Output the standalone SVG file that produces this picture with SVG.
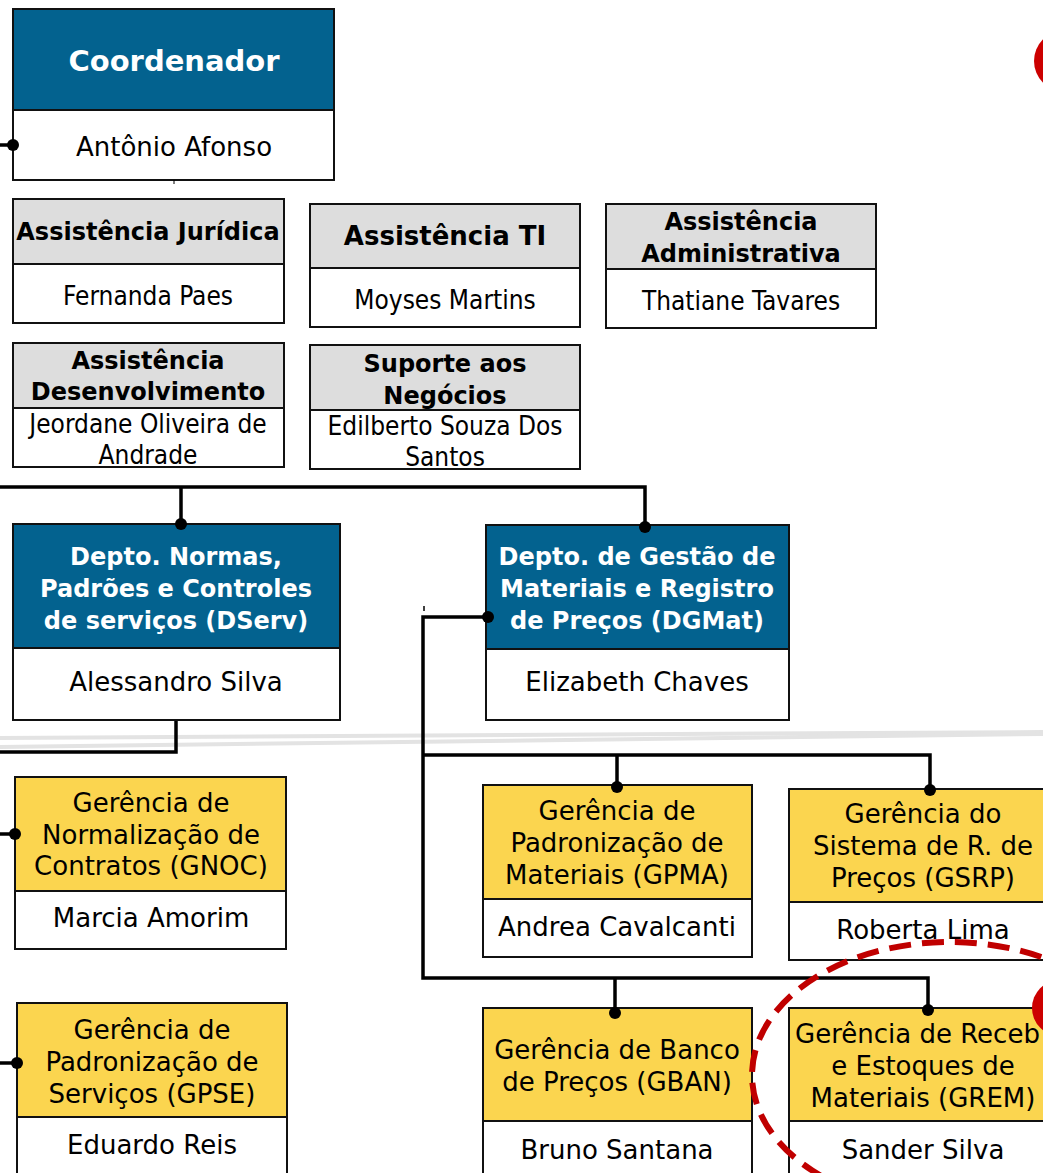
<svg xmlns="http://www.w3.org/2000/svg" width="1043" height="1173" viewBox="0 0 1043 1173">
  <defs>
    <style>
      .hdr-blue { fill: #03628F; stroke: #111; stroke-width: 2; }
      .hdr-gray { fill: #DDDDDD; stroke: #111; stroke-width: 2; }
      .hdr-yel  { fill: #FBD54F; stroke: #111; stroke-width: 2; }
      .cell     { fill: #FFFFFF; stroke: #111; stroke-width: 2; }
      .t        { font-family: "DejaVu Sans", Verdana, sans-serif; font-size: 26px; fill: #000; text-anchor: middle; }
      .tc       { font-family: "DejaVu Sans Condensed", "DejaVu Sans", sans-serif; font-stretch: condensed; font-size: 26px; fill: #000; text-anchor: middle; }
      .tb       { font-family: "DejaVu Sans", Verdana, sans-serif; font-weight: bold; font-size: 24px; fill: #000; text-anchor: middle; }
      .tw       { font-family: "DejaVu Sans", Verdana, sans-serif; font-weight: bold; font-size: 24px; fill: #FFF; text-anchor: middle; }
      .link     { fill: none; stroke: #000; stroke-width: 3.5; }
      .dot      { fill: #000; }
      .rule     { stroke: #E3E3E3; stroke-width: 4; fill: none; }
    </style>
    <linearGradient id="fade" x1="0" y1="0" x2="1" y2="0">
      <stop offset="0" stop-color="#E3E3E3" stop-opacity="0"/>
      <stop offset="0.3" stop-color="#E3E3E3" stop-opacity="1"/>
    </linearGradient>
  </defs>

  <!-- background rules -->
  <g id="rules">
    <line x1="250" y1="482" x2="1043" y2="482" stroke="url(#fade)" stroke-width="4"/>
    <line class="rule" x1="0" y1="738" x2="1043" y2="732"/>
    <line class="rule" x1="0" y1="747" x2="1043" y2="734"/>
  </g>

  <!-- coordination -->
  <g id="coordenador">
    <rect class="hdr-blue" x="13" y="9" width="321" height="101"/>
    <rect class="cell" x="13" y="110" width="321" height="70"/>
    <text class="tw" x="174" y="71" style="font-size:29px">Coordenador</text>
    <text class="t" x="174" y="156">Antônio Afonso</text>
  </g>

  <!-- assistants -->
  <g id="assist-juridica">
    <rect class="hdr-gray" x="13" y="199" width="271" height="65"/>
    <rect class="cell" x="13" y="264" width="271" height="59"/>
    <text class="tb" x="148" y="240">Assistência Jurídica</text>
    <text class="tc" x="148" y="305">Fernanda Paes</text>
  </g>

  <g id="assist-ti">
    <rect class="hdr-gray" x="310" y="204" width="270" height="64"/>
    <rect class="cell" x="310" y="268" width="270" height="59"/>
    <text class="tb" x="445" y="245" style="font-size:26px">Assistência TI</text>
    <text class="tc" x="445" y="309">Moyses Martins</text>
  </g>

  <g id="assist-adm">
    <rect class="hdr-gray" x="606" y="204" width="270" height="65"/>
    <rect class="cell" x="606" y="269" width="270" height="59"/>
    <text class="tb" x="741" y="230">Assistência</text>
    <text class="tb" x="741" y="262">Administrativa</text>
    <text class="tc" x="741" y="310">Thatiane Tavares</text>
  </g>

  <g id="assist-desenv">
    <rect class="hdr-gray" x="13" y="343" width="271" height="65"/>
    <rect class="cell" x="13" y="408" width="271" height="59"/>
    <text class="tb" x="148" y="369">Assistência</text>
    <text class="tb" x="148" y="400">Desenvolvimento</text>
    <text class="tc" x="148" y="433">Jeordane Oliveira de</text>
    <text class="tc" x="148" y="464">Andrade</text>
  </g>

  <g id="suporte-negocios">
    <rect class="hdr-gray" x="310" y="345" width="270" height="65"/>
    <rect class="cell" x="310" y="410" width="270" height="59"/>
    <text class="tb" x="445" y="372">Suporte aos</text>
    <text class="tb" x="445" y="404">Negócios</text>
    <text class="tc" x="445" y="435">Edilberto Souza Dos</text>
    <text class="tc" x="445" y="466">Santos</text>
  </g>

  <!-- departments -->
  <g id="dserv">
    <rect class="hdr-blue" x="13" y="524" width="327" height="124"/>
    <rect class="cell" x="13" y="648" width="327" height="72"/>
    <text class="tw" x="176" y="565">Depto. Normas,</text>
    <text class="tw" x="176" y="597">Padrões e Controles</text>
    <text class="tw" x="176" y="629">de serviços (DServ)</text>
    <text class="t" x="176" y="691">Alessandro Silva</text>
  </g>

  <g id="dgmat">
    <rect class="hdr-blue" x="486" y="525" width="303" height="124"/>
    <rect class="cell" x="486" y="649" width="303" height="71"/>
    <text class="tw" x="637" y="565">Depto. de Gestão de</text>
    <text class="tw" x="637" y="597">Materiais e Registro</text>
    <text class="tw" x="637" y="629">de Preços (DGMat)</text>
    <text class="t" x="637" y="691">Elizabeth Chaves</text>
  </g>

  <!-- management units -->
  <g id="gnoc">
    <rect class="hdr-yel" x="15" y="777" width="271" height="114"/>
    <rect class="cell" x="15" y="891" width="271" height="58"/>
    <text class="t" x="151" y="812">Gerência de</text>
    <text class="t" x="151" y="844">Normalização de</text>
    <text class="t" x="151" y="875">Contratos (GNOC)</text>
    <text class="t" x="151" y="927">Marcia Amorim</text>
  </g>

  <g id="gpse">
    <rect class="hdr-yel" x="17" y="1003" width="270" height="114"/>
    <rect class="cell" x="17" y="1117" width="270" height="60"/>
    <text class="t" x="152" y="1039">Gerência de</text>
    <text class="t" x="152" y="1071">Padronização de</text>
    <text class="t" x="152" y="1103">Serviços (GPSE)</text>
    <text class="t" x="152" y="1154">Eduardo Reis</text>
  </g>

  <g id="gpma">
    <rect class="hdr-yel" x="483" y="785" width="269" height="114"/>
    <rect class="cell" x="483" y="899" width="269" height="58"/>
    <text class="t" x="617" y="820">Gerência de</text>
    <text class="t" x="617" y="852">Padronização de</text>
    <text class="t" x="617" y="884">Materiais (GPMA)</text>
    <text class="t" x="617" y="936">Andrea Cavalcanti</text>
  </g>

  <g id="gsrp">
    <rect class="hdr-yel" x="789" y="789" width="262" height="113"/>
    <rect class="cell" x="789" y="902" width="262" height="58"/>
    <text class="t" x="923" y="823">Gerência do</text>
    <text class="t" x="923" y="855">Sistema de R. de</text>
    <text class="t" x="923" y="887">Preços (GSRP)</text>
    <text class="t" x="923" y="939">Roberta Lima</text>
  </g>

  <g id="gban">
    <rect class="hdr-yel" x="483" y="1008" width="269" height="113"/>
    <rect class="cell" x="483" y="1121" width="269" height="60"/>
    <text class="t" x="617" y="1059">Gerência de Banco</text>
    <text class="t" x="617" y="1091">de Preços (GBAN)</text>
    <text class="t" x="617" y="1159">Bruno Santana</text>
  </g>

  <g id="grem">
    <rect class="hdr-yel" x="789" y="1008" width="268" height="113"/>
    <rect class="cell" x="789" y="1121" width="268" height="60"/>
    <text class="t" x="795" y="1043" style="text-anchor:start">Gerência de Receb</text>
    <text class="t" x="923" y="1075">e Estoques de</text>
    <text class="t" x="923" y="1107">Materiais (GREM)</text>
    <text class="t" x="923" y="1159">Sander Silva</text>
  </g>

  <!-- connectors, drawn over the box edges so the end dots show -->
  <g id="connectors">
    <line class="link" x1="0" y1="145" x2="13" y2="145"/>
    <circle class="dot" cx="13" cy="145" r="6"/>
    <line x1="174" y1="180" x2="174" y2="184" stroke="#000" stroke-width="1"/>

    <polyline class="link" points="0,487 645,487 645,527"/>
    <line class="link" x1="181" y1="487" x2="181" y2="524"/>
    <circle class="dot" cx="181" cy="524" r="6"/>
    <circle class="dot" cx="645" cy="527" r="6"/>

    <polyline class="link" points="176,721 176,752 0,752"/>

    <line class="link" x1="0" y1="834" x2="15" y2="834"/>
    <circle class="dot" cx="15" cy="834" r="6"/>
    <line class="link" x1="0" y1="1063" x2="17" y2="1063"/>
    <circle class="dot" cx="17" cy="1063" r="6"/>

    <line x1="424" y1="606" x2="424" y2="611" stroke="#000" stroke-width="1.5"/>
    <polyline class="link" points="488,617 423,617 423,978 928,978 928,1010"/>
    <circle class="dot" cx="488" cy="617" r="6"/>
    <polyline class="link" points="423,755 930,755 930,790"/>
    <line class="link" x1="617" y1="755" x2="617" y2="787"/>
    <circle class="dot" cx="617" cy="787" r="6"/>
    <circle class="dot" cx="930" cy="790" r="6"/>
    <line class="link" x1="615" y1="978" x2="615" y2="1013"/>
    <circle class="dot" cx="615" cy="1013" r="6"/>
    <circle class="dot" cx="928" cy="1010" r="6"/>
  </g>

  <!-- highlight marks -->
  <g id="highlights">
    <ellipse cx="950" cy="1075" rx="198" ry="133" fill="none" stroke="#C00000" stroke-width="6" stroke-dasharray="22 11"/>
    <circle cx="1065" cy="61" r="31" fill="#CC0000"/>
    <circle cx="1060" cy="1008" r="28" fill="#CC0000"/>
  </g>
</svg>
